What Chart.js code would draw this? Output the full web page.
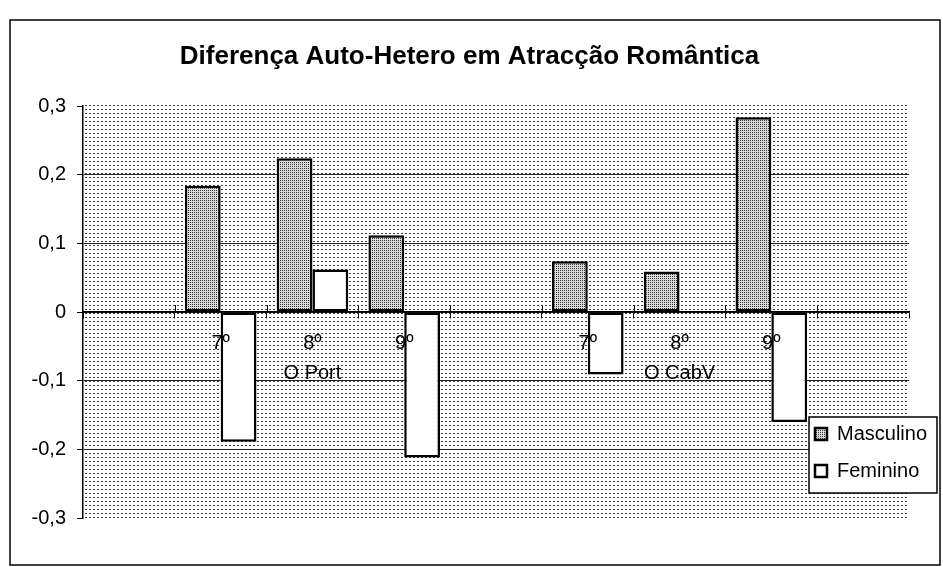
<!DOCTYPE html>
<html>
<head>
<meta charset="utf-8">
<script src="https://cdn.jsdelivr.net/npm/chart.js@4.4.1/dist/chart.umd.min.js"></script>
<style>
  html, body { margin: 0; padding: 0; background: #fff; }
  #wrap { position: relative; width: 943px; height: 567px; }
</style>
</head>
<body>
<div id="wrap"><canvas id="c"></canvas></div>
<script>
// ---- data ----
const titleText = 'Diferença Auto-Hetero em Atracção Romântica';
const categories = ['', '7º', ['8º', 'O Port'], '9º', '', '7º', ['8º', 'O CabV'], '9º', ''];
const seriesNames = ['Masculino', 'Feminino'];
const masculino = [null, 0.184, 0.224, 0.112, null, 0.074, 0.059, 0.284, null];
const feminino  = [null, -0.189, 0.062, -0.212, null, -0.091, null, -0.160, null];
const yTickLabels = ['-0,3', '-0,2', '-0,1', '0', '0,1', '0,2', '0,3'];

// ---- patterns ----
function makePattern(size, dots, bg, fg) {
  const c = document.createElement('canvas');
  c.width = size[0]; c.height = size[1];
  const x = c.getContext('2d');
  x.fillStyle = bg; x.fillRect(0, 0, size[0], size[1]);
  x.fillStyle = fg;
  dots.forEach(d => x.fillRect(d[0], d[1], d[2], d[3]));
  return x.createPattern(c, 'repeat');
}
const plotPattern = makePattern([4, 4], [[1, 1, 2, 1]], '#ffffff', '#404040');
const mascPattern = makePattern([2, 2], [[0, 0, 1, 1]], '#dcdcdc', '#303030');

const FONT = "'Liberation Sans', Arial, sans-serif";

const decor = {
  id: 'decor',
  beforeDraw(chart) {
    const {ctx, chartArea: a} = chart;
    ctx.save();
    ctx.fillStyle = '#fff';
    ctx.fillRect(0, 0, chart.width, chart.height);
    ctx.strokeStyle = '#000';
    ctx.lineWidth = 1.5;
    ctx.strokeRect(10, 20, 930, 545);
    ctx.fillStyle = plotPattern;
    ctx.fillRect(a.left, a.top - 2, a.right - a.left, a.bottom - a.top + 2);
    ctx.restore();

    const lg = chart.legend;
    if (lg) {
      lg.left = 798; lg.top = 407; lg.right = 943; lg.bottom = 540;
      lg.width = lg.right - lg.left; lg.height = lg.bottom - lg.top;
      if (!lg._patched) {
        const orig = lg.draw.bind(lg);
        lg.draw = function (area) {
          const c = chart.ctx;
          c.save();
          c.fillStyle = '#fff';
          c.fillRect(809, 417, 128, 76);
          c.strokeStyle = '#000';
          c.lineWidth = 1.5;
          c.strokeRect(809, 417, 128, 76);
          c.restore();
          orig(area);
        };
        lg._patched = true;
      }
    }
  },
  afterDatasetsDraw(chart) {
    // small tick marks crossing the zero axis above it (category boundaries)
    const xs = chart.scales.x, ys = chart.scales.y;
    const y0 = ys.getPixelForValue(0);
    const ctx = chart.ctx;
    ctx.save();
    ctx.strokeStyle = '#000';
    ctx.lineWidth = 1;
    for (let i = 1; i < xs.ticks.length; i++) {
      const xp = Math.round((xs.getPixelForTick(i) + xs.getPixelForTick(i - 1)) / 2) + 0.5;
      ctx.beginPath();
      ctx.moveTo(xp, y0 - 7);
      ctx.lineTo(xp, y0);
      ctx.stroke();
    }
    ctx.restore();
  }
};

new Chart(document.getElementById('c'), {
  type: 'bar',
  data: {
    labels: categories,
    datasets: [
      { label: seriesNames[0], data: masculino, backgroundColor: mascPattern, borderColor: '#000', borderWidth: 2.5, borderSkipped: false },
      { label: seriesNames[1], data: feminino, backgroundColor: '#ffffff', borderColor: '#000', borderWidth: 2.5, borderSkipped: false }
    ]
  },
  options: {
    responsive: true,
    maintainAspectRatio: false,
    animation: false,
    devicePixelRatio: 1,
    categoryPercentage: 0.78,
    barPercentage: 1.0,
    layout: { padding: { left: 30, right: 34, top: 0, bottom: 49 } },
    plugins: {
      title: {
        display: true,
        text: titleText,
        color: '#000',
        font: { family: FONT, size: 26, weight: 'bold' },
        padding: { top: 41, bottom: 34 }
      },
      legend: {
        display: true,
        position: 'chartArea',
        align: 'start',
        labels: {
          color: '#000',
          font: { family: FONT, size: 20 },
          boxWidth: 12,
          boxHeight: 12,
          padding: 17
        }
      },
      tooltip: { enabled: false }
    },
    scales: {
      x: {
        position: { y: 0 },
        grid: { display: true, drawOnChartArea: false, drawTicks: true, tickLength: 6, tickColor: '#000', offset: true },
        border: { display: true, color: '#000', width: 1.5 },
        ticks: {
          z: 1,
          color: '#000',
          font: { family: FONT, size: 20, lineHeight: 1.5 },
          padding: 10,
          maxRotation: 0,
          autoSkip: false
        }
      },
      y: {
        min: -0.3,
        max: 0.3,
        afterFit(scale) { scale.width = 53; },
        grid: {
          color: (c) => (c.index === 0 || c.index === 6) ? 'rgba(0,0,0,0)' : '#222',
          lineWidth: 1,
          tickColor: '#000',
          tickLength: 6
        },
        border: { display: true, color: '#000', width: 1.5 },
        ticks: {
          stepSize: 0.1,
          color: '#000',
          font: { family: FONT, size: 20 },
          padding: 11,
          callback: (v, i) => yTickLabels[i]
        }
      }
    }
  },
  plugins: [decor]
});
</script>
</body>
</html>
